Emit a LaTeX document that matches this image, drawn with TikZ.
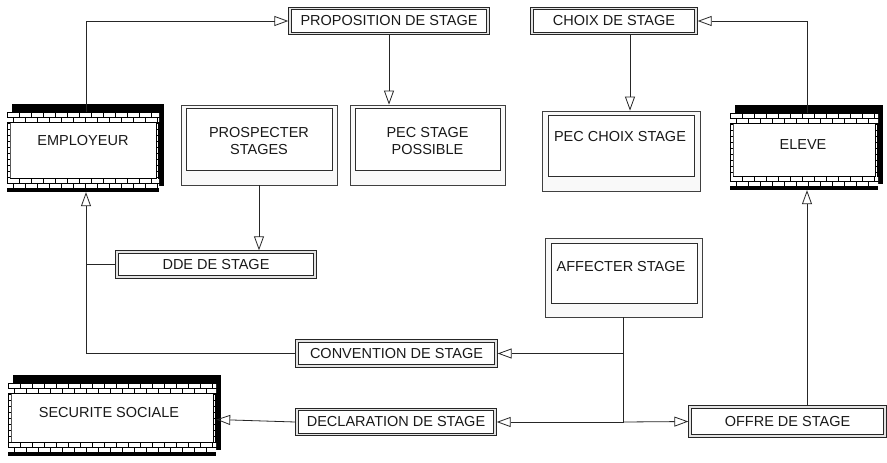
\documentclass[tikz,border=0pt]{standalone}
\usepackage{fontspec}
\setmainfont{Liberation Sans}
\usetikzlibrary{arrows.meta}

\newcommand\brickband[4]{% x1, x2, ytop, ybot
  \begin{scope}
    \clip ({#1},{#3}) rectangle ({#2},{#4});
    \fill[black] ({#1},{#3}) rectangle ({#2},{#4});
    \foreach \i in {0,...,19}{
      \fill[white] ({#1+1+12*\i},{#3+1.3}) rectangle ++(10.6,3.8);
      \fill[white] ({#1-5+12*\i},{#3+6.4}) rectangle ++(10.6,3.6);
    }
  \end{scope}}
\newcommand\brickside[3]{% x, ytop, ybot
  \begin{scope}
    \clip ({#1},{#2}) rectangle ({#1+3.5},{#3});
    \fill[black] ({#1},{#2}) rectangle ({#1+3.5},{#3});
    \foreach \j in {0,...,14}{
      \fill[white] ({#1+1},{#2+1+6*\j}) rectangle ++(1.6,4.8);
    }
  \end{scope}}
\newcommand\brickentity[4]{% x1, y1, x2, y2
  \fill[black] ({#1+5},{#2-8}) rectangle ({#3+5},{#4-6});
  \fill[white] ({#1},{#2}) rectangle ({#3},{#4});
  \brickband{#1}{#3}{#2}{#2+11}
  \brickband{#1}{#3}{#4-14}{#4}
  \brickside{#1}{#2+11}{#4-14}
  \brickside{#3-3.5}{#2+11}{#4-14}}

\tikzset{
  conn/.style={draw=black!85, line width=0.8pt},
  tip/.style={-{Triangle[open,length=14pt,width=10pt]}},
  txt/.style={font=\fontsize{14.5}{16.5}\selectfont, text=black!90, align=center, inner sep=0pt},
  flow/.style={rectangle, fill=white, draw=gray!30!black, line width=3.4pt,
    postaction={draw=gray!22, line width=1.4pt},
    minimum height=25pt, inner sep=0pt,
    font=\fontsize{14.5}{16.5}\selectfont, text=black!90},
  proco/.style={rectangle, draw=gray!50!black, fill=gray!5, line width=0.7pt, inner sep=0pt},
  proci/.style={rectangle, draw=gray!35!black, fill=white, line width=0.7pt, inner sep=0pt},
  shapeonly/.style={rectangle, inner sep=0pt}
}

\begin{document}
\begin{tikzpicture}[x=1pt, y=-1pt]
\useasboundingbox (0,0) rectangle (887,463);
\fill[white] (0,0) rectangle (887,463);

% entities
\brickentity{7}{112}{159}{192}
\node[shapeonly, minimum width=152pt, minimum height=80pt] (emp) at (83,152) {};
\node[txt] (empt) at (83,141) {EMPLOYEUR};

\brickentity{730}{113}{878}{190}
\node[shapeonly, minimum width=148pt, minimum height=77pt] (el) at (804,151.5) {};
\node[txt] (elt) at (803,145) {ELEVE};

\brickentity{8}{383}{216}{456}
\node[shapeonly, minimum width=208pt, minimum height=73pt] (sec) at (112,419.5) {};
\node[txt] (sect) at (109,413) {SECURITE SOCIALE};

% processes
\node[proco, minimum width=156pt, minimum height=80pt] (prosp) at (259,145) {};
\node[proci, minimum width=146pt, minimum height=62pt] (prospi) at (259,139) {};
\node[txt] (prospt) at (259,141) {PROSPECTER\\STAGES};

\node[proco, minimum width=155pt, minimum height=80pt] (pec) at (427.5,145) {};
\node[proci, minimum width=145pt, minimum height=62pt] (peci) at (427.5,139) {};
\node[txt] (pect) at (427.5,141) {PEC STAGE\\POSSIBLE};

\node[proco, minimum width=158pt, minimum height=80pt] (pcs) at (621,151) {};
\node[proci, minimum width=146pt, minimum height=61pt] (pcsi) at (621,145.5) {};
\node[txt] (pcst) at (620,137) {PEC CHOIX STAGE};

\node[proco, minimum width=157pt, minimum height=79pt] (aff) at (623.5,277.5) {};
\node[proci, minimum width=146pt, minimum height=60pt] (affi) at (624,273) {};
\node[txt] (afft) at (621,267) {AFFECTER STAGE};

% flows
\node[flow, minimum width=198pt] (prop) at (389,21) {PROPOSITION DE STAGE};
\node[flow, minimum width=164pt] (choix) at (614,21) {CHOIX DE STAGE};
\node[flow, minimum width=198pt] (dde) at (216,264.5) {DDE DE STAGE};
\node[flow, minimum width=199pt] (conv) at (396.5,353.5) {CONVENTION DE STAGE};
\node[flow, minimum width=198pt] (decl) at (396,422) {DECLARATION DE STAGE};
\node[flow, minimum width=195pt, minimum height=29pt] (offre) at (787.5,421.5) {OFFRE DE STAGE};

% connectors
\coordinate (en) at ([xshift=3pt]emp.north);
\coordinate (es) at ([xshift=3pt]emp.south);
\draw[conn, tip] (en) |- (prop.west);
\draw[conn, tip] (prop.south) -- (prop.south |- pec.north);
\coordinate (cs) at ([xshift=16pt]choix.south);
\draw[conn, tip] (cs) -- (cs |- pcs.north);
\coordinate (eln) at ([xshift=3pt]el.north);
\draw[conn, tip] (eln) |- (choix.east);
\draw[conn, tip] (prosp.south) -- (prosp.south |- dde.north);
\draw[conn, tip] (dde.west) -| (es);
\draw[conn] (conv.west) -| (es |- dde.west);
\coordinate (j1) at (aff.south |- conv.east);
\coordinate (j2) at (aff.south |- decl.east);
\draw[conn] (aff.south) -- (j2);
\draw[conn, tip] (j1) -- (conv.east);
\draw[conn, tip] (j2) -- (decl.east);
\draw[conn, tip] (j2) -- (offre.west);
\draw[conn, tip] (decl.west) -- (sec.east);
\coordinate (on) at ([xshift=19.5pt]offre.north);
\draw[conn, tip] (on) -- (on |- el.south);
\end{tikzpicture}
\end{document}
